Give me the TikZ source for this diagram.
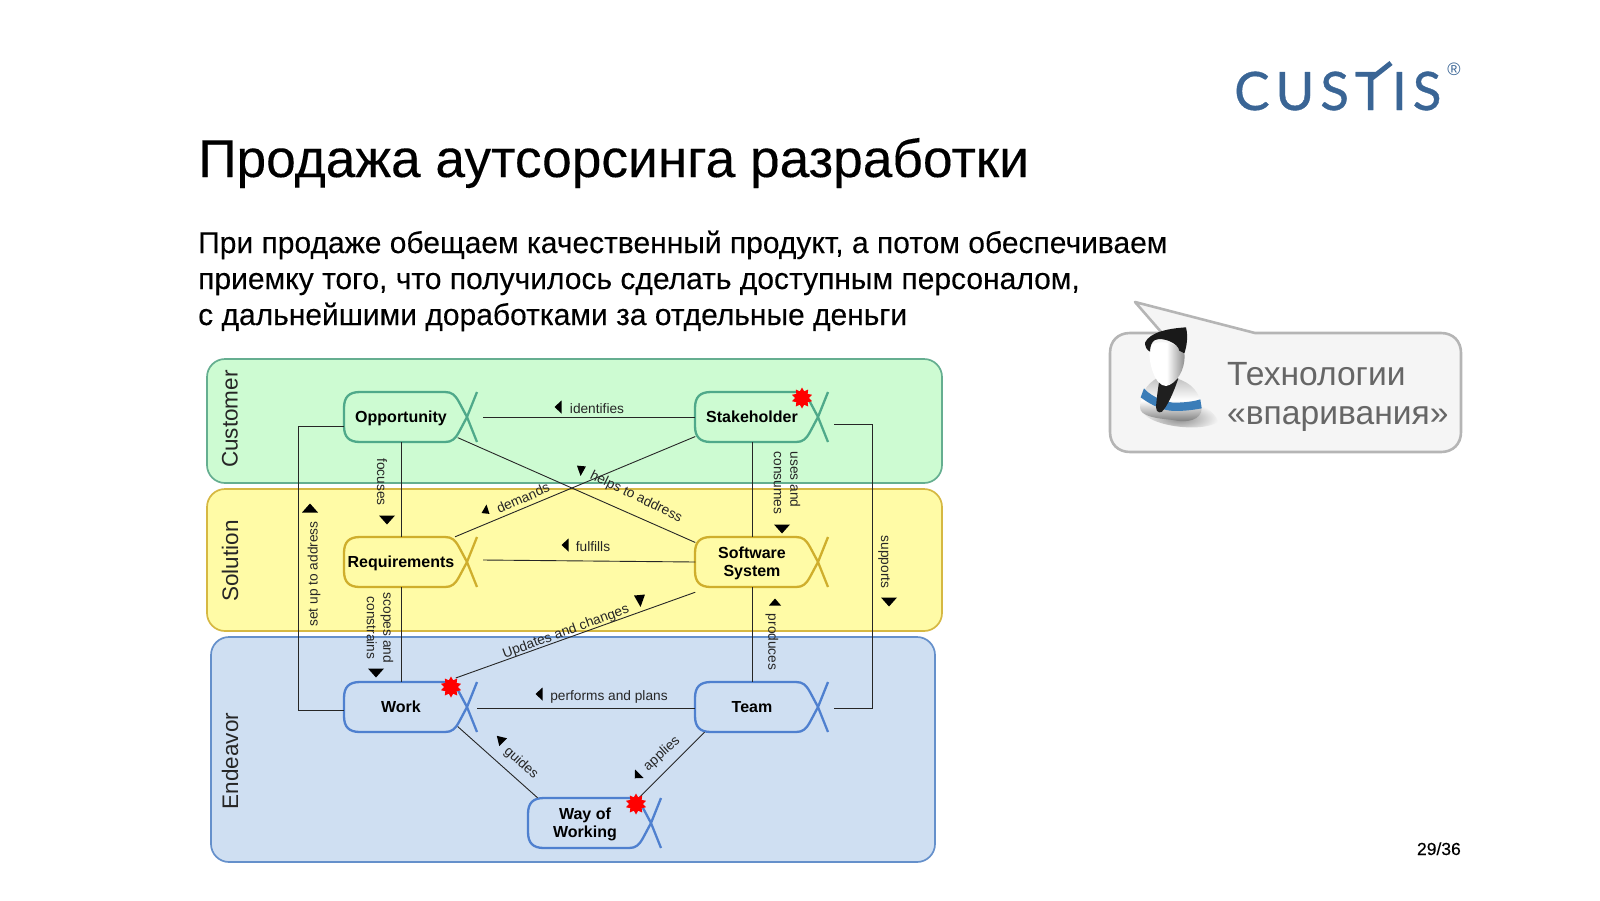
\documentclass[tikz,border=0pt]{standalone}
\usepackage{fontspec}
\setmainfont{Liberation Sans}
\newfontfamily\logofont[LetterSpace=11,FakeBold=0.7]{Lato}
\newfontfamily\headfont[FakeBold=0.2]{Liberation Sans}
\usetikzlibrary{shapes.geometric, calc, positioning}
\definecolor{custblue}{HTML}{3A6595}
\definecolor{custfill}{HTML}{CDFBD2}
\definecolor{custline}{HTML}{65AE90}
\definecolor{custstate}{HTML}{4FA98A}
\definecolor{solfill}{HTML}{FFFBA6}
\definecolor{solline}{HTML}{D6B842}
\definecolor{solstate}{HTML}{CFAE2C}
\definecolor{endfill}{HTML}{CFDFF2}
\definecolor{endline}{HTML}{6590CB}
\definecolor{endstate}{HTML}{4F80CF}
\definecolor{calloutgray}{HTML}{B5B5B5}
\definecolor{stripeblue}{HTML}{3B7DB8}
\tikzset{
  statebox/.style={minimum width=113pt, minimum height=50pt, inner sep=0pt, text depth=-3pt,
                   align=center, font=\fontsize{16}{18}\selectfont\bfseries},
  stateline/.style={line width=2.3pt, line join=round},
  band/.style={line width=1.7pt, rounded corners=18pt},
  bandlabel/.style={font=\fontsize{22.5}{25}\selectfont, text=black!85, rotate=90},
  link/.style={line width=0.9pt, draw=black!85},
  linklabel/.style={font=\fontsize{13.7}{16.5}\selectfont, text=black!85, inner sep=0pt},
  slidetext/.style={anchor=base west, inner sep=0pt, font=\fontsize{30}{36}\headfont},
  callouttext/.style={anchor=base west, inner sep=0pt, text=black!60, font=\fontsize{33.6}{38}\selectfont},
  redstar/.style={shape=star, star points=10, star point ratio=1.5, fill=red,
                  minimum size=21pt, inner sep=0pt}
}
% alpha shape round a named node: name, x, y, colour, text
\newcommand{\alphastate}[5]{
  \node[statebox] (#1) at (#2,#3) {#5};
  \draw[stateline, draw=#4, shift={(#2,#3)}]
    (76,-25) -- (66,0) -- (58,15) .. controls (54,22) and (51,25) .. (44,25)
    -- (-41,25) .. controls (-52,25) and (-57,20) .. (-57,9) -- (-57,-9)
    .. controls (-57,-20) and (-52,-25) .. (-41,-25) -- (44,-25)
    .. controls (51,-25) and (54,-22) .. (58,-15) -- (66,0) -- (76,25);
  \coordinate (#1 tail) at ($(#1.center)+(82,0)$);
}
% small black direction mark: x, y, angle, half length, half width
\newcommand{\dirmark}[5]{
  \fill[black, shift={(#1,#2)}, rotate=#3] (#4,0) -- (-#4,#5) -- (-#4,-#5) -- cycle;
}
\begin{document}
\begin{tikzpicture}[x=1pt, y=-1pt]
  \useasboundingbox (0,0) rectangle (1600,900);

  \node[anchor=base west, inner sep=0pt, font=\fontsize{53.3}{55}\headfont] (title) at (198,177) {Продажа аутсорсинга разработки};
  \node[slidetext] (line1) at (198,253) {При продаже обещаем качественный продукт, а потом обеспечиваем};
  \node[slidetext] (line2) at (198,289) {приемку того, что получилось сделать доступным персоналом,};
  \node[slidetext] (line3) at (198,325) {с дальнейшими доработками за отдельные деньги};
  \node[anchor=base east, inner sep=0pt, font=\fontsize{17.5}{20}\headfont] (page) at (1461,855) {29/36};

  % logo
  \node[anchor=base west, inner sep=0pt, text=custblue, font=\fontsize{53}{55}\logofont] (logo) at (1234,110) {CUSTIS};
  \fill[white] (1376,68) rectangle (1392,80);
  \draw[custblue, line width=5pt] (1372,78) -- (1391,63);
  \node[anchor=center, inner sep=0pt, text=custblue, font=\fontsize{18}{20}\selectfont] (reg) at (1454,69) {®};

  % bands
  \draw[band, fill=custfill, draw=custline] (207,359) rectangle (942,483);
  \draw[band, fill=solfill, draw=solline] (207,489) rectangle (942,631);
  \draw[band, fill=endfill, draw=endline] (211,637) rectangle (935,862);
  \node[bandlabel] (customer) at (230,419) {Customer};
  \node[bandlabel] (solution) at (230,561) {Solution};
  \node[bandlabel] (endeavor) at (230,761) {Endeavor};

  % states
  \alphastate{opp}{401}{417}{custstate}{Opportunity}
  \alphastate{stake}{752}{417}{custstate}{Stakeholder}
  \alphastate{req}{401}{562}{solstate}{Requirements}
  \alphastate{soft}{752}{562}{solstate}{Software\\System}
  \alphastate{work}{401}{707}{endstate}{Work}
  \alphastate{team}{752}{707}{endstate}{Team}
  \alphastate{way}{585}{823}{endstate}{Way of\\Working}

  % connectors
  \draw[link] (opp tail) -- (stake.west);
  \draw[link] (opp.south) -- (req.north);
  \draw[link] (req.south) -- (work.north);
  \draw[link] (stake.south) -- (soft.north);
  \draw[link] (soft.south) -- (team.north);
  \draw[link] ($(req tail)+(0,-2)$) -- (soft.west);
  \draw[link] (opp.-20) -- (soft.161);
  \draw[link] (stake.199) -- (req.25);
  \draw[link] ($(soft.south west)+(0,5)$) -- ($(work.east)+(-2,-29)$);
  \draw[link] ($(work tail)+(-6,1)$) -- ($(team.west)+(0,1)$);
  \draw[link] (work.-19) -- (way.152);
  \draw[link] (team.208) -- (way.25);
  \draw[link] ($(opp.west)+(0,9)$) -| (298,710) -- ($(work.west)+(0,3)$);
  \draw[link] ($(stake tail)+(0,7)$) -| (872,708) -- ($(team tail)+(0,1)$);

  % labels
  \node[linklabel] (identifies) at (597,409) {identifies};
  \node[linklabel, rotate=-90] (focuses) at (382,482) {focuses};
  \node[linklabel, rotate=90] (setup) at (314,574) {set up to address};
  \node[linklabel, rotate=24] (demands) at (523,498) {demands};
  \node[linklabel, rotate=-26] (helps) at (636,497) {helps to address};
  \node[linklabel, rotate=-90, align=left] (uses) at (787,483) {uses and\\consumes};
  \node[linklabel] (fulfills) at (593,547) {fulfills};
  \node[linklabel, rotate=-90] (supports) at (884,562) {supports};
  \node[linklabel, rotate=-90] (produces) at (772,642) {produces};
  \node[linklabel, rotate=-90, align=center] (scopes) at (380,628) {scopes and\\constrains};
  \node[linklabel, rotate=20] (updates) at (566,632) {Updates and changes};
  \node[linklabel] (performs) at (609,697) {performs and plans};
  \node[linklabel, rotate=-42] (guides) at (521,763) {guides};
  \node[linklabel, rotate=42] (applies) at (662,754) {applies};

  % direction marks
  \dirmark{558}{407}{180}{3.5}{6.5}
  \dirmark{387}{520}{270}{4.5}{8}
  \dirmark{310}{508}{90}{4.5}{8}
  \dirmark{486}{509}{84}{4.5}{4}
  \dirmark{581}{471}{-95}{5}{4.5}
  \dirmark{782}{529}{270}{4.5}{8}
  \dirmark{565}{545}{180}{3.5}{6.5}
  \dirmark{889}{602}{270}{4.5}{8}
  \dirmark{775}{602}{90}{3.5}{6}
  \dirmark{376}{673}{270}{4.5}{8}
  \dirmark{640}{601}{-85}{6}{5.5}
  \dirmark{539}{694}{180}{3.5}{6.5}
  \dirmark{500}{739}{135}{4.5}{5.5}
  \dirmark{637}{776}{225}{3.2}{6}

  % stars
  \node[redstar] (star1) at (802,398) {};
  \node[redstar] (star2) at (451,687) {};
  \node[redstar] (star3) at (636,804) {};

  % callout
  \draw[line width=2.6pt, draw=calloutgray, fill=black!4, line join=round]
    (1135,302) -- (1255,333) -- (1441,333) .. controls (1453,333) and (1461,341) .. (1461,353)
    -- (1461,432) .. controls (1461,444) and (1453,452) .. (1441,452)
    -- (1130,452) .. controls (1118,452) and (1110,444) .. (1110,432)
    -- (1110,353) .. controls (1110,341) and (1118,333) .. (1130,333) -- (1162,333) -- cycle;
  \node[callouttext] (tech) at (1227,385) {Технологии};
  \node[callouttext] (sell) at (1227,424) {«впаривания»};

  % person
  \begin{scope}[shift={(1120,320)}, scale=0.3333]
    \shade[inner color=black!45, outer color=black!4] (60,262) .. controls (70,320) and (250,340) .. (295,305)
      .. controls (280,270) and (250,260) .. (230,250) -- cycle;
    \shade[top color=black!25, bottom color=black!55, middle color=white]
      (60,262) .. controls (65,220) and (75,195) .. (115,172) -- (170,175)
      .. controls (215,190) and (240,215) .. (245,265) .. controls (245,300) and (200,310) .. (160,300)
      .. controls (110,295) and (60,290) .. (60,262) -- cycle;
    \fill[stripeblue] (72,205) .. controls (85,222) and (125,245) .. (160,248)
      .. controls (190,248) and (220,245) .. (241,238) -- (245,265)
      .. controls (220,270) and (180,275) .. (150,272)
      .. controls (120,268) and (85,250) .. (62,232) -- cycle;
    \fill[black!88] (118,180) -- (175,175) .. controls (160,220) and (145,250) .. (132,268)
      .. controls (125,282) and (108,280) .. (108,262)
      .. controls (110,230) and (115,200) .. (118,180) -- cycle;
    \shade[left color=white, right color=black!45, middle color=white]
      (88,85) .. controls (85,130) and (105,198) .. (138,198)
      .. controls (170,192) and (195,150) .. (194,105)
      .. controls (192,70) and (100,50) .. (88,85) -- cycle;
    \fill[black!90] (75,68) .. controls (90,35) and (150,25) .. (198,22)
      .. controls (205,50) and (200,80) .. (193,100) -- (178,92)
      .. controls (175,70) and (130,50) .. (105,60)
      .. controls (95,65) and (90,80) .. (90,95)
      .. controls (80,90) and (75,80) .. (75,68) -- cycle;
  \end{scope}
\end{tikzpicture}
\end{document}
